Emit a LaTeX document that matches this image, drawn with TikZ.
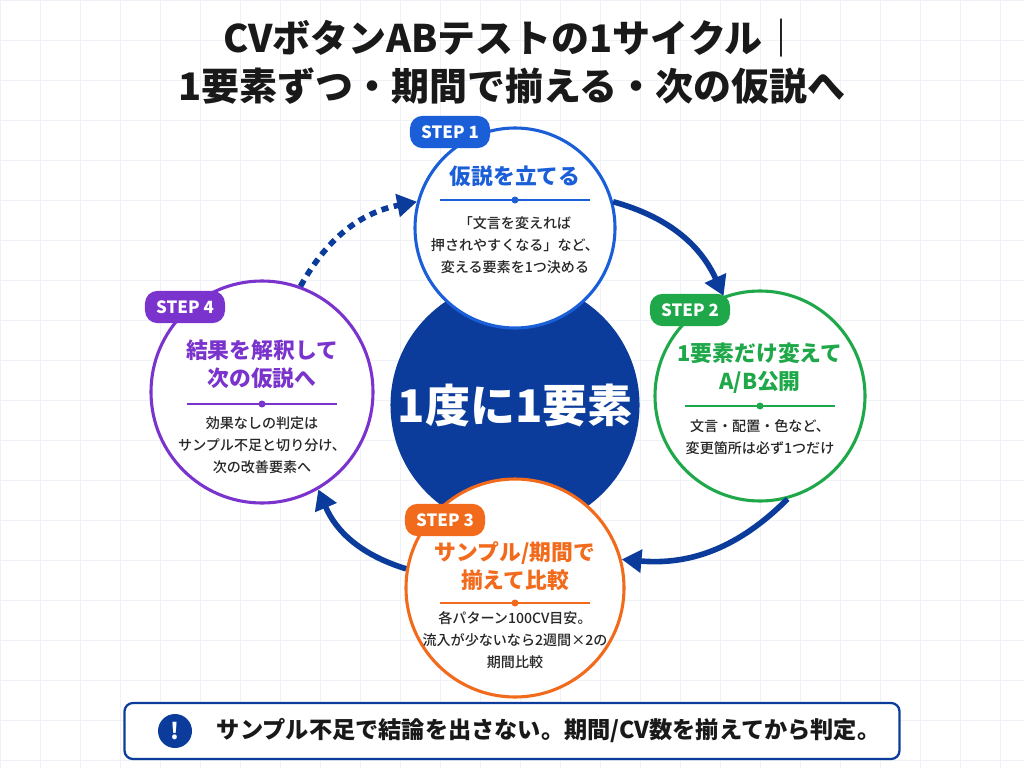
\documentclass[tikz,border=0pt]{standalone}
\usepackage{fontspec}
\setmainfont{Noto Sans CJK JP}
\newfontfamily\jpmedium{Noto Sans CJK JP Medium}
\usetikzlibrary{arrows.meta}
\definecolor{cblue}{HTML}{1A5FD8}
\definecolor{cgreen}{HTML}{1FA84A}
\definecolor{corange}{HTML}{F26A1B}
\definecolor{cpurple}{HTML}{7A33CC}
\definecolor{cnavy}{HTML}{0B3C9C}
\definecolor{cgrid}{HTML}{EEF1F6}
\tikzset{
  badge/.style={rounded corners=9pt, fill=#1, text=white, font=\fontsize{12pt}{12pt}\selectfont\bfseries, inner xsep=8pt, minimum height=23pt},
  head/.style={text=#1, font=\fontsize{15.5pt}{20pt}\selectfont\bfseries, align=center},
  body/.style={font=\fontsize{10pt}{15.5pt}\selectfont\jpmedium, align=center, text=black!85},
  cyclearrow/.style={cnavy, line width=4pt, -{Triangle[length=14pt,width=16pt]}},
}
\begin{document}
\begin{tikzpicture}[x=0.025cm, y=-0.025cm]%
\useasboundingbox (0,0) rectangle (1024,768);%
\fill[white] (0,0) rectangle (1024,768);%
\foreach \i in {0,40,...,1024} {\draw[cgrid] (\i,0) -- (\i,768);}%
\foreach \j in {0,40,...,768} {\draw[cgrid] (0,\j) -- (1024,\j);}%
% title
\node[font=\fontsize{27pt}{27pt}\selectfont\bfseries, text=black!90] (title1) at (512,38) {CVボタンABテストの1サイクル｜};%
\node[font=\fontsize{27pt}{27pt}\selectfont\bfseries, text=black!90] (title2) at (512,86) {1要素ずつ・期間で揃える・次の仮説へ};%
% center
\node[circle, fill=cnavy, minimum size=222*0.025cm, text=white, font=\fontsize{32pt}{32pt}\selectfont\bfseries] (core) at (515,405) {1度に1要素};%
% steps
\node[circle, draw=cblue, line width=2.2pt, fill=white, minimum size=200*0.025cm] (s1) at (515,228) {};%
\node[circle, draw=cgreen, line width=2.2pt, fill=white, minimum size=210*0.025cm] (s2) at (760,396) {};%
\node[circle, draw=corange, line width=2.2pt, fill=white, minimum size=218*0.025cm] (s3) at (515,588) {};%
\node[circle, draw=cpurple, line width=2.2pt, fill=white, minimum size=222*0.025cm] (s4) at (262,392) {};%
% step 1
\node[badge=cblue] (b1) at (450,132) {STEP 1};%
\node[head=cblue] (h1) at (515,176) {仮説を立てる};%
\draw[cblue, line width=1pt] (440,200) -- (590,200); \fill[cblue] (515,200) circle (3.5);%
\node[body] (t1) at (515,245) {「文言を変えれば\\押されやすくなる」など、\\変える要素を1つ決める};%
% step 2
\node[badge=cgreen] (b2) at (690,310) {STEP 2};%
\node[head=cgreen] (h2) at (760,368) {1要素だけ変えて\\A/B公開};%
\draw[cgreen, line width=1pt] (685,406) -- (835,406); \fill[cgreen] (760,406) circle (3.5);%
\node[body] (t2) at (760,437) {文言・配置・色など、\\変更箇所は必ず1つだけ};%
% step 3
\node[badge=corange] (b3) at (445,520) {STEP 3};%
\node[head=corange] (h3) at (515,566) {サンプル/期間で\\揃えて比較};%
\draw[corange, line width=1pt] (440,603) -- (590,603); \fill[corange] (515,603) circle (3.5);%
\node[body] (t3) at (515,640) {各パターン100CV目安。\\流入が少ないなら2週間×2の\\期間比較};%
% step 4
\node[badge=cpurple] (b4) at (185,307) {STEP 4};%
\node[head=cpurple] (h4) at (262,364) {結果を解釈して\\次の仮説へ};%
\draw[cpurple, line width=1pt] (187,404) -- (337,404); \fill[cpurple] (262,404) circle (3.5);%
\node[body] (t4) at (262,445) {効果なしの判定は\\サンプル不足と切り分け、\\次の改善要素へ};%
% cycle arrows
\draw[cyclearrow] (s1.15) to[bend left=25] (s2.110);%
\draw[cyclearrow] (s2.-75) to[bend left=25] (s3.15);%
\draw[cyclearrow] (s3.170) to[bend left=25] (s4.-60);%
\draw[cyclearrow, dash pattern=on 5pt off 4pt] (s4.70) to[bend left=25] (s1.165);%
% note bar
\node[draw=cnavy, line width=1.6pt, rounded corners=6pt, fill=white, minimum width=775*0.025cm, minimum height=56*0.025cm] (note) at (512,731) {};%
\node[circle, fill=cnavy, minimum size=34*0.025cm, text=white, font=\fontsize{16pt}{16pt}\selectfont\bfseries, inner sep=0pt] (warn) at (175,731) {!};%
\node[font=\fontsize{16.5pt}{16.5pt}\selectfont\bfseries, text=black!90, anchor=west] (notetext) at (212,731) {サンプル不足で結論を出さない。期間/CV数を揃えてから判定。};%
\end{tikzpicture}
\end{document}
